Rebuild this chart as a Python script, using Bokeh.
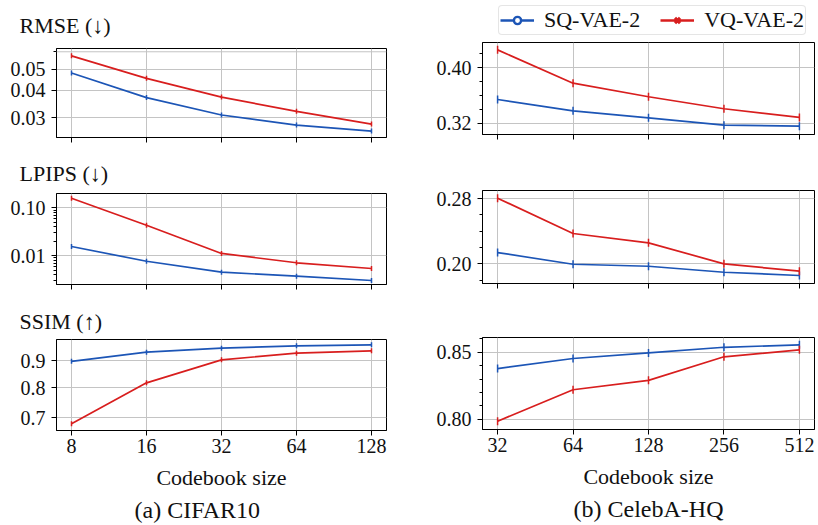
import math
from bokeh.plotting import figure
from bokeh.models import (FixedTicker, PrintfTickFormatter, Range1d, Span, Title,
                          Legend, LegendItem, ColumnDataSource)
from bokeh.layouts import column, row
from bokeh.embed import file_html
from bokeh.resources import INLINE

# ---------------- data ----------------
cifar_sizes = [8, 16, 32, 64, 128]
celeba_sizes = [32, 64, 128, 256, 512]

rmse_cifar_sq = [0.0480, 0.0371, 0.0309, 0.0278, 0.0261]
rmse_cifar_vq = [0.0575, 0.0454, 0.0373, 0.0321, 0.0281]
lpips_cifar_sq = [0.0156, 0.0077, 0.00455, 0.00376, 0.00305]
lpips_cifar_vq = [0.158, 0.0434, 0.0112, 0.00715, 0.00543]
ssim_cifar_sq = [0.898, 0.935, 0.9515, 0.9617, 0.966]
ssim_cifar_vq = [0.6817, 0.8166, 0.904, 0.9308, 0.9406]

rmse_celeba_sq = [0.354, 0.3378, 0.3277, 0.3171, 0.3157]
rmse_celeba_vq = [0.4254, 0.3775, 0.358, 0.3407, 0.3282]
lpips_celeba_sq = [0.2138, 0.1995, 0.197, 0.1897, 0.1857]
lpips_celeba_vq = [0.2804, 0.2371, 0.2257, 0.200, 0.191]
ssim_celeba_sq = [0.8378, 0.8453, 0.8495, 0.8537, 0.8555]
ssim_celeba_vq = [0.7985, 0.822, 0.829, 0.8466, 0.8518]

series_names = ["SQ-VAE-2", "VQ-VAE-2"]
metric_titles = ["RMSE (\u2193)", "LPIPS (\u2193)", "SSIM (\u2191)"]
captions = ["(a) CIFAR10", "(b) CelebA-HQ"]
xlabel = "Codebook size"

FONT = "Liberation Serif"
BLUE = "#1c55b6"
RED = "#d81e1e"
TXT = "#111111"


def make_panel(x, sq, vq, xr, yr, ytype, yticks, yminor, yfmt, width, height,
               border, ms, bottom_row):
    left, right, top, bottom = border
    p = figure(width=width, height=height, x_axis_type="log", y_axis_type=ytype,
               x_range=Range1d(*xr), y_range=Range1d(*yr),
               output_backend="svg", toolbar_location=None,
               min_border_left=left, min_border_right=right,
               min_border_top=top, min_border_bottom=bottom)
    p.outline_line_color = "black"
    p.outline_line_width = 1
    p.outline_line_alpha = 1
    p.background_fill_color = "white"
    p.border_fill_color = "white"

    p.xaxis.ticker = FixedTicker(ticks=x, minor_ticks=[])
    p.xaxis.formatter = PrintfTickFormatter(format="%d")
    p.yaxis.ticker = FixedTicker(ticks=yticks, minor_ticks=yminor)
    p.yaxis.formatter = PrintfTickFormatter(format=yfmt)
    for ax in (p.xaxis[0], p.yaxis[0]):
        ax.axis_line_color = "black"
        ax.major_tick_line_color = "black"
        ax.minor_tick_line_color = "black"
        ax.major_tick_in = 0
        ax.major_tick_out = 5
        ax.minor_tick_in = 0
        ax.minor_tick_out = 3
        ax.major_label_text_font = FONT
        ax.major_label_text_font_size = "20px"
        ax.major_label_text_color = TXT
    p.yaxis.major_label_standoff = 6
    p.xaxis.major_label_standoff = 3
    p.xaxis.minor_tick_line_color = None
    if bottom_row:
        p.xaxis.axis_label = xlabel
        p.xaxis.axis_label_text_font = FONT
        p.xaxis.axis_label_text_font_size = "22px"
        p.xaxis.axis_label_text_font_style = "normal"
        p.xaxis.axis_label_text_color = TXT
        p.xaxis.axis_label_standoff = 9
    else:
        p.xaxis.major_label_overrides = {v: "" for v in x}
        p.xaxis.major_label_text_font_size = "0px"
        p.xaxis.major_label_standoff = 0

    for g in (p.xgrid[0], p.ygrid[0]):
        g.grid_line_color = "#c4c4c4"
        g.grid_line_width = 1

    p.line(x, sq, line_color=BLUE, line_width=1.7)
    p.line(x, vq, line_color=RED, line_width=1.7)
    p.scatter(x, sq, marker="dash", angle=math.pi / 2, size=ms,
              line_color=BLUE, line_width=1.5)
    p.scatter(x, vq, marker="dash", angle=math.pi / 2, size=ms,
              line_color=RED, line_width=1.5)
    return p


W = 409

# left column (CIFAR10): heights 150, 150, 225
L1 = make_panel(cifar_sizes, rmse_cifar_sq, rmse_cifar_vq, (2 ** 2.8, 2 ** 7.2),
                (0.0244, 0.0621), "log", [0.03, 0.04, 0.05], [0.06], "%.2f",
                W, 150, (56, 23, 46, 13), 5, False)
L1.add_layout(Span(location=0.06, dimension="width", line_color="#c4c4c4", line_width=1))
L2 = make_panel(cifar_sizes, lpips_cifar_sq, lpips_cifar_vq, (2 ** 2.8, 2 ** 7.2),
                (0.00252, 0.199), "log", [0.01, 0.1],
                [0.003, 0.004, 0.005, 0.006, 0.007, 0.008, 0.009,
                 0.02, 0.03, 0.04, 0.05, 0.06, 0.07, 0.08, 0.09],
                "%.2f", W, 150, (56, 23, 43, 16), 5, False)
L3 = make_panel(cifar_sizes, ssim_cifar_sq, ssim_cifar_vq, (2 ** 2.8, 2 ** 7.2),
                (0.6617, 0.9888), "log", [0.7, 0.8, 0.9], [], "%.1f",
                W, 225, (56, 23, 39, 95), 5, True)

# right column (CelebA-HQ): legend strip 40, then 110, 150, 225
R1 = make_panel(celeba_sizes, rmse_celeba_sq, rmse_celeba_vq, (2 ** 4.8, 2 ** 9.2),
                (0.3037, 0.436), "linear", [0.32, 0.40],
                [0.30, 0.34, 0.36, 0.38, 0.42, 0.44], "%.2f",
                W, 110, (73, 4, 2, 16), 8, False)
R2 = make_panel(celeba_sizes, lpips_celeba_sq, lpips_celeba_vq, (2 ** 4.8, 2 ** 9.2),
                (0.1759, 0.2898), "linear", [0.20, 0.28],
                [0.18, 0.22, 0.24, 0.26], "%.2f",
                W, 150, (73, 4, 40, 17), 8, False)
R3 = make_panel(celeba_sizes, ssim_celeba_sq, ssim_celeba_vq, (2 ** 4.8, 2 ** 9.2),
                (0.7923, 0.861), "linear", [0.80, 0.85],
                [0.81, 0.82, 0.83, 0.84, 0.86], "%.2f",
                W, 225, (73, 4, 37, 96), 8, True)

# metric titles (left column)
for p, title, so in [(L1, metric_titles[0], 21), (L2, metric_titles[1], 15),
                     (L3, metric_titles[2], 11)]:
    p.title.text = title
    p.title.align = "left"
    p.title.offset = -37
    p.title.standoff = so
    p.title.text_font = FONT
    p.title.text_font_size = "22px"
    p.title.text_font_style = "normal"
    p.title.text_color = TXT

# captions below the bottom panels
L3.add_layout(Title(text=captions[0], align="left", offset=78, standoff=4,
                    text_font=FONT, text_font_size="24px", text_font_style="normal",
                    text_color=TXT), "below")
R3.add_layout(Title(text=captions[1], align="center", standoff=4,
                    text_font=FONT, text_font_size="24px", text_font_style="normal",
                    text_color=TXT), "below")

# legend strip above the top-right panel (its frame is aligned with the panels below)
LG = figure(width=W, height=40, x_range=(0, 1), y_range=(0, 1),
            output_backend="svg", toolbar_location=None,
            x_axis_location=None, y_axis_location=None,
            min_border_left=73, min_border_right=4, min_border_top=0, min_border_bottom=0)
LG.outline_line_color = None
LG.grid.visible = False
LG.background_fill_color = "white"
LG.border_fill_color = "white"
hidden = ColumnDataSource(data=dict(x=[-5.0, -4.0], y=[-5.0, -4.0]))
l_sq = LG.line("x", "y", source=hidden, line_color=BLUE, line_width=2.5)
m_sq = LG.scatter("x", "y", source=hidden, marker="circle", size=10, line_color=BLUE,
                  fill_color="white", line_width=2.4)
l_vq = LG.line("x", "y", source=hidden, line_color=RED, line_width=2.5)
m_vq = LG.scatter("x", "y", source=hidden, marker="x", size=13, line_color=RED,
                  line_width=3.2)
legend = Legend(items=[LegendItem(label=series_names[0], renderers=[l_sq, m_sq], index=0),
                       LegendItem(label=series_names[1], renderers=[l_vq, m_vq], index=0)],
                location=(16, 5), orientation="horizontal",
                label_text_font=FONT, label_text_font_size="22px", label_text_color=TXT,
                glyph_width=34, glyph_height=18, label_height=18, label_standoff=10,
                spacing=20, padding=1, margin=0, border_line_color="#cccccc",
                border_line_width=1, border_radius=4,
                background_fill_color="white", background_fill_alpha=0.9)
LG.add_layout(legend)

layout = row(column(L1, L2, L3), column(LG, R1, R2, R3))

open("out.html", "w").write(file_html(layout, INLINE))
